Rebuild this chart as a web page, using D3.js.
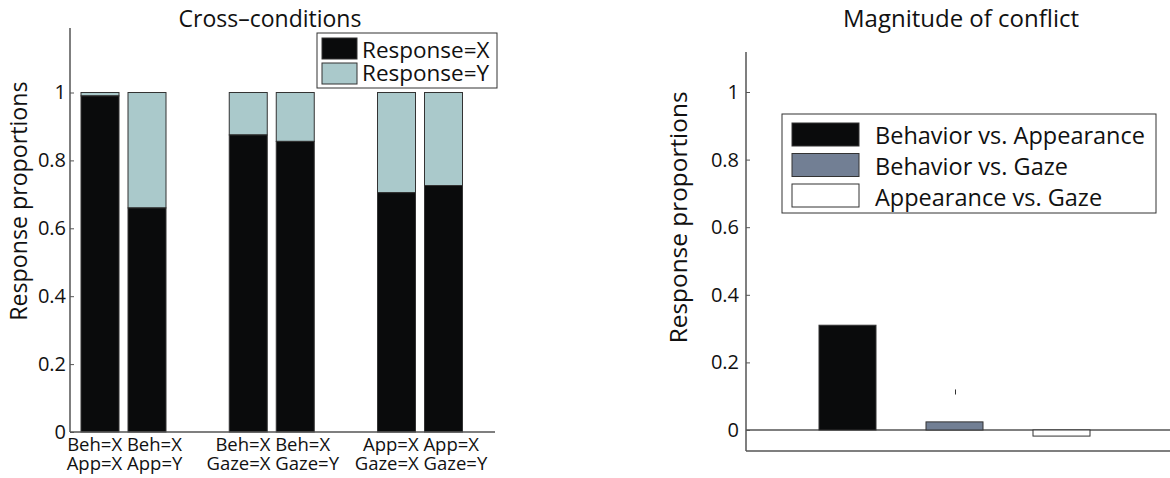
<!DOCTYPE html>
<html>
<head>
<meta charset="utf-8">
<script src="https://cdn.jsdelivr.net/npm/d3@7"></script>
<style>
  body { margin: 0; background: #fff; }
  text { font-family: "Open Sans", "Noto Sans", sans-serif; fill: #111; }
</style>
</head>
<body>
<div id="chart"></div>
<script>
// left panel data
var groups = ["Beh/App", "Beh/Gaze", "App/Gaze"];
var groupLabels = [["Beh=X Beh=X", "App=X App=Y"], ["Beh=X Beh=X", "Gaze=X Gaze=Y"], ["App=X App=X", "Gaze=X Gaze=Y"]];
var barGroup = [0, 0, 1, 1, 2, 2];
var responseX = [0.99, 0.66, 0.875, 0.856, 0.705, 0.726];
var responseY = [0.01, 0.34, 0.125, 0.144, 0.295, 0.274];
var leftTicks = [0, 0.2, 0.4, 0.6, 0.8, 1];
var leftLegend = ["Response=X", "Response=Y"];

// right panel data
var conflicts = ["Behavior vs. Appearance", "Behavior vs. Gaze", "Appearance vs. Gaze"];
var conflictValues = [0.31, 0.024, -0.018];
var conflictErr = [null, [0.105, 0.12], null];
var rightTicks = [0, 0.2, 0.4, 0.6, 0.8, 1];

var colX = "#0a0b0c", colY = "#aac9cb";
var conflictColors = ["#0a0b0c", "#727f94", "#ffffff"];

var svg = d3.select("#chart").append("svg")
  .attr("width", 1170)
  .attr("height", 478);

// ---------- left panel ----------
var left = svg.append("g");
var yL = d3.scaleLinear().domain([0, 1.19]).range([432, 28]);
var xG = d3.scalePoint().domain(groups).range([123.5, 420]);
var bw = 38;
function barX(i) { return xG(groups[barGroup[i]]) + (i % 2 === 0 ? -23.5 : 23.5); }

left.append("text")
  .attr("x", 270).attr("y", 27)
  .attr("text-anchor", "middle")
  .attr("font-size", 23)
  .text("Cross\u2013conditions");

left.append("text")
  .attr("transform", "translate(27," + yL(0.68) + ") rotate(-90)")
  .attr("text-anchor", "middle")
  .attr("font-size", 23.2)
  .text("Response proportions");

var idx = d3.range(responseX.length);
// Response=Y stacked on top of Response=X
left.selectAll("rect.ry").data(idx).enter().append("rect")
  .attr("class", "ry")
  .attr("x", i => barX(i) - bw / 2)
  .attr("width", bw)
  .attr("y", i => yL(responseX[i] + responseY[i]))
  .attr("height", i => yL(responseX[i]) - yL(responseX[i] + responseY[i]))
  .attr("fill", colY).attr("stroke", "#333").attr("stroke-width", 1);
left.selectAll("rect.rx").data(idx).enter().append("rect")
  .attr("class", "rx")
  .attr("x", i => barX(i) - bw / 2)
  .attr("width", bw)
  .attr("y", i => yL(responseX[i]))
  .attr("height", i => yL(0) - yL(responseX[i]))
  .attr("fill", colX).attr("stroke", "#333").attr("stroke-width", 1);

var yAxisL = left.append("g")
  .attr("transform", "translate(70,0)")
  .call(d3.axisLeft(yL).tickValues(leftTicks).tickFormat(d3.format("")).tickSizeInner(-4).tickSizeOuter(0).tickPadding(4));
yAxisL.select(".domain").attr("stroke", "#555").attr("stroke-width", 1.5).attr("d", "M0," + yL(0) + "V28");
yAxisL.selectAll(".tick line").attr("stroke", "#555");
yAxisL.selectAll(".tick text").attr("font-size", 20).attr("fill", "#111").attr("font-family", "Open Sans");

left.append("line")
  .attr("x1", 70).attr("x2", 495)
  .attr("y1", yL(0)).attr("y2", yL(0))
  .attr("stroke", "#555").attr("stroke-width", 1.5);

groups.forEach(function (g, j) {
  groupLabels[j].forEach(function (s, k) {
    left.append("text")
      .attr("x", xG(g) + 1).attr("y", 451 + k * 19)
      .attr("text-anchor", "middle")
      .attr("font-size", 18.5)
      .text(s);
  });
});

var legL = left.append("g");
legL.append("rect").attr("x", 317).attr("y", 33).attr("width", 180).attr("height", 55)
  .attr("fill", "#fff").attr("stroke", "#333").attr("stroke-width", 1);
leftLegend.forEach(function (s, k) {
  legL.append("rect").attr("x", 322).attr("y", 38 + k * 25).attr("width", 35).attr("height", 21)
    .attr("fill", k === 0 ? colX : colY).attr("stroke", "#333");
  legL.append("text").attr("x", 362).attr("y", 57.5 + k * 23).attr("font-size", 22.5).text(s);
});

// ---------- right panel ----------
var right = svg.append("g");
var yR = d3.scaleLinear().domain([0, 1]).range([430, 92]);
var xR = d3.scalePoint().domain(conflicts).range([847.5, 1061.5]);
var bw2 = 57;

right.append("text")
  .attr("x", 961).attr("y", 27)
  .attr("text-anchor", "middle")
  .attr("font-size", 24)
  .text("Magnitude of conflict");

right.append("text")
  .attr("transform", "translate(687," + yR(0.629) + ") rotate(-90)")
  .attr("text-anchor", "middle")
  .attr("font-size", 24.4)
  .text("Response proportions");

right.append("line")
  .attr("x1", 746).attr("x2", 1170)
  .attr("y1", yR(0)).attr("y2", yR(0))
  .attr("stroke", "#555").attr("stroke-width", 1.5);

right.selectAll("rect.c").data(conflicts).enter().append("rect")
  .attr("class", "c")
  .attr("x", d => xR(d) - bw2 / 2)
  .attr("width", bw2)
  .attr("y", (d, i) => yR(Math.max(0, conflictValues[i])))
  .attr("height", (d, i) => Math.abs(yR(conflictValues[i]) - yR(0)))
  .attr("fill", (d, i) => conflictColors[i])
  .attr("stroke", "#333").attr("stroke-width", 1);

conflicts.forEach(function (d, i) {
  if (!conflictErr[i]) return;
  right.append("line")
    .attr("x1", xR(d) + 1).attr("x2", xR(d) + 1)
    .attr("y1", yR(conflictErr[i][0])).attr("y2", yR(conflictErr[i][1]))
    .attr("stroke", "#333").attr("stroke-width", 1);
});

var yAxisR = right.append("g")
  .attr("transform", "translate(746,0)")
  .call(d3.axisLeft(yR).tickValues(rightTicks).tickFormat(d3.format("")).tickSizeInner(-4).tickSizeOuter(0).tickPadding(7));
yAxisR.select(".domain").attr("stroke", "#555").attr("stroke-width", 1.5).attr("d", "M0,451V52");
yAxisR.selectAll(".tick line").attr("stroke", "#555");
yAxisR.selectAll(".tick text").attr("font-size", 20).attr("fill", "#111").attr("font-family", "Open Sans");

right.append("line")
  .attr("x1", 746).attr("x2", 1170)
  .attr("y1", 451).attr("y2", 451)
  .attr("stroke", "#555").attr("stroke-width", 1.5);

var legR = right.append("g");
legR.append("rect").attr("x", 782).attr("y", 114).attr("width", 374).attr("height", 99)
  .attr("fill", "#fff").attr("stroke", "#333").attr("stroke-width", 1);
conflicts.forEach(function (s, k) {
  legR.append("rect").attr("x", 792).attr("y", 123 + k * 30.5).attr("width", 67).attr("height", 23)
    .attr("fill", conflictColors[k]).attr("stroke", "#333");
  legR.append("text").attr("x", 875).attr("y", 144 + k * 31).attr("font-size", 23.5).text(s);
});
</script>
</body>
</html>
